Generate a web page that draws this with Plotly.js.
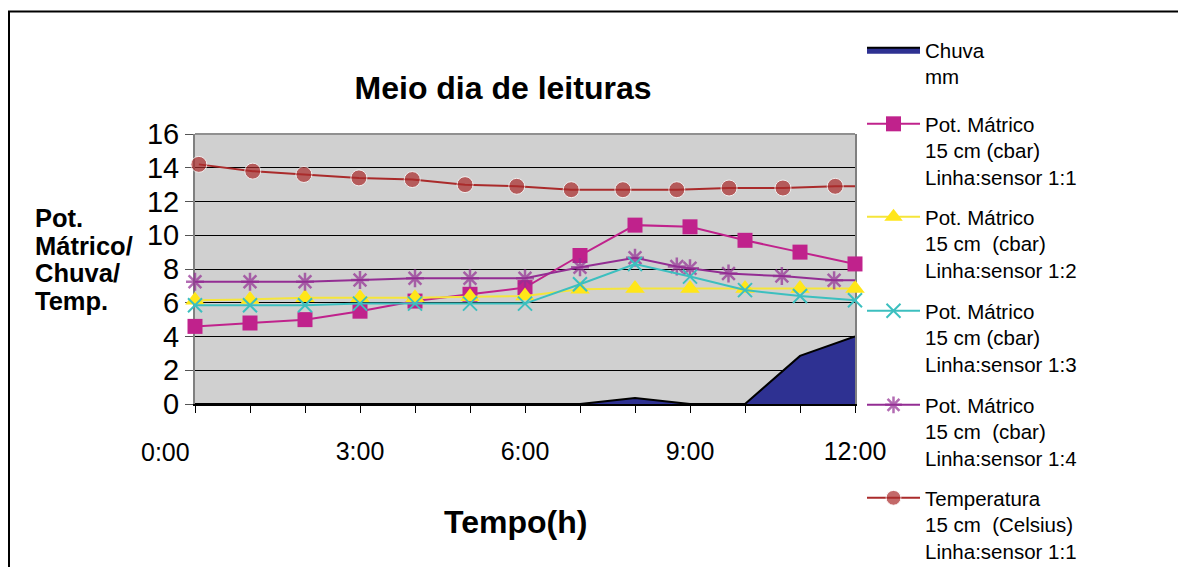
<!DOCTYPE html>
<html><head><meta charset="utf-8">
<script src="https://cdn.plot.ly/plotly-3.0.1.min.js"></script>
<style>body{margin:0;background:#fff}</style>
</head><body><div id="chart" style="width:1178px;height:567px"></div>
<script>
// ---- data ----
const hours = [0,1,2,3,4,5,6,7,8,9,10,11,12];
const chuva = [0,0,0,0,0,0,0,0,0.35,0,0,2.85,4.0];
const pot11 = [4.6,4.8,5.0,5.5,6.1,6.5,6.9,8.8,10.6,10.5,9.7,9.0,8.3];
const pot12 = [6.15,6.2,6.3,6.3,6.3,6.35,6.4,6.8,6.85,6.85,6.85,6.85,6.85];
const pot13 = [5.85,5.85,5.85,5.95,5.95,5.95,5.95,7.1,8.3,7.55,6.75,6.4,6.15];
const pot14Hours = [0,1,2,3,4,5,6,7,8,8.76,9,9.7,10.67,11.62,12];
const pot14 = [7.25,7.25,7.25,7.35,7.45,7.45,7.45,8.1,8.67,8.15,8.05,7.73,7.58,7.34,7.33];
const tempHours = [0.07,1.05,1.98,2.98,3.95,4.91,5.85,6.84,7.78,8.76,9.71,10.69,11.64,12];
const temp = [14.2,13.8,13.6,13.4,13.3,13.0,12.9,12.7,12.7,12.7,12.8,12.8,12.9,12.9];
const xTickVals = [3,6,9,12];
const xTickText = ['3:00','6:00','9:00','12:00'];
const yTitleLines = ['Pot.','Mátrico/','Chuva/','Temp.'];
const names = [
  'Chuva<br>mm',
  'Pot. Mátrico<br>15 cm (cbar)<br>Linha:sensor 1:1',
  'Pot. Mátrico<br>15 cm&nbsp; (cbar)<br>Linha:sensor 1:2',
  'Pot. Mátrico<br>15 cm (cbar)<br>Linha:sensor 1:3',
  'Pot. Mátrico<br>15 cm&nbsp; (cbar)<br>Linha:sensor 1:4',
  'Temperatura<br>15 cm&nbsp; (Celsius)<br>Linha:sensor 1:1'
];

const F = 'Arial, "Liberation Sans", sans-serif';
const noLast = (arr, s) => arr.map((v,i)=> i === arr.length-1 ? 0 : s);

const traces = [
  {x: hours, y: chuva, name: names[0], type:'scatter', mode:'lines', fill:'tozeroy',
   fillcolor:'#2E3192', line:{color:'#000', width:2}, legend:'legend'},
  {x: hours, y: pot11, name: names[1], type:'scatter', mode:'lines+markers',
   line:{color:'#C0228C', width:2}, marker:{symbol:'square', size:15, color:'#C0228C'},
   legend:'legend2', cliponaxis:false},
  {x: hours, y: pot12, name: names[2], type:'scatter', mode:'lines+markers',
   line:{color:'#F5E53A', width:2}, marker:{symbol:'triangle-up', size:17, color:'#FFE619'},
   legend:'legend3', cliponaxis:false},
  {x: pot14Hours, y: pot14, name: names[4], type:'scatter', mode:'lines+markers',
   line:{color:'#932D93', width:2}, marker:{symbol:'asterisk-open', size:noLast(pot14,15), line:{color:'#8A2A8A', width:2.5}},
   legend:'legend5', cliponaxis:false},
  {x: hours, y: pot13, name: names[3], type:'scatter', mode:'lines+markers',
   line:{color:'#3CBFBF', width:2}, marker:{symbol:'x-thin-open', size:14, line:{color:'#3CBFBF', width:2}},
   legend:'legend4', cliponaxis:false},
  {x: tempHours, y: temp, name: names[5], type:'scatter', mode:'lines+markers',
   line:{color:'#AA2B2B', width:2}, marker:{symbol:'circle', size:noLast(temp,16), color:'#AA2B2B'},
   legend:'legend6', cliponaxis:false}
];

const legendBase = {xanchor:'left', yanchor:'top', font:{family:F, size:20.5, color:'#000'},
  bgcolor:'rgba(0,0,0,0)', borderwidth:0, valign:'top', itemwidth:53,
  itemclick:false, itemdoubleclick:false, x:(862-195)/660};
const legendTops = [30, 104, 197, 291, 385, 478];
const leg = (i) => Object.assign({}, legendBase, {y:(404-legendTops[i])/270});

const yTitleCenters = [217.7, 246, 272.7, 301];
const yTitleAnns = yTitleLines.map((t,i) => ({text:t, xref:'paper', yref:'paper',
  x:(33-195)/660, y:(404-yTitleCenters[i])/270, xanchor:'left', yanchor:'middle', showarrow:false,
  font:{family:F, size:25.5, weight:'bold', color:'#000'}}));

const layout = {
  width:1178, height:567,
  margin:{l:195, r:323, t:134, b:163, autoexpand:false},
  paper_bgcolor:'#fff', plot_bgcolor:'#D0D0D0',
  font:{family:F, color:'#000'},
  showlegend:true,
  title:{text:'Meio dia de leituras', font:{family:F, size:32, weight:'bold', color:'#000'},
    x:0.4667, xanchor:'center', xref:'paper', y:1-88/567, yanchor:'middle', automargin:false},
  xaxis:{range:[0,12], tickvals:xTickVals, ticktext:xTickText, ticks:'outside', ticklen:7,
    tickcolor:'#000', tickwidth:1, showline:true, linecolor:'#000', linewidth:2,
    showgrid:false, zeroline:false, tickfont:{family:F, size:25, color:'#000'},
    ticklabelstandoff:17, layer:'below traces', fixedrange:true, automargin:false,
    minor:{dtick:1, tick0:0, ticks:'outside', ticklen:7, tickcolor:'#000', tickwidth:1, showgrid:false}},
  yaxis:{range:[0,16], tick0:0, dtick:2, showgrid:true, gridcolor:'#000', gridwidth:1,
    showline:true, linecolor:'#808080', linewidth:2, mirror:true, ticks:'outside', ticklen:8,
    tickcolor:'#555', tickwidth:1, zeroline:false, tickfont:{family:F, size:29, color:'#000'},
    layer:'below traces', fixedrange:true, automargin:false},
  legend: leg(0), legend2: leg(1), legend3: leg(2), legend4: leg(3), legend5: leg(4), legend6: leg(5),
  annotations:[
    {text:'0:00', xref:'paper', yref:'paper', x:(165-195)/660, y:(404-452)/270, xanchor:'center', yanchor:'middle', showarrow:false, font:{family:F, size:25, color:'#000'}},
    {text:'Tempo(h)', xref:'paper', yref:'paper', x:(515-195)/660, y:(404-522)/270, xanchor:'center', yanchor:'middle', showarrow:false, font:{family:F, size:32, weight:'bold', color:'#000'}}
  ].concat(yTitleAnns),
  shapes:[
    {type:'rect', xref:'paper', yref:'paper', x0:(9-195)/660, x1:(1200-195)/660, y0:(404-600)/270, y1:(404-11.5)/270,
     line:{color:'#000', width:2}, fillcolor:'rgba(0,0,0,0)', layer:'below'},
    {type:'line', xref:'paper', yref:'paper', x0:0, x1:1, y0:1, y1:1, line:{color:'#909090', width:2}, layer:'above'}
  ]
};

Plotly.newPlot('chart', traces, layout, {displayModeBar:false, staticPlot:true});
</script>
</body></html>
